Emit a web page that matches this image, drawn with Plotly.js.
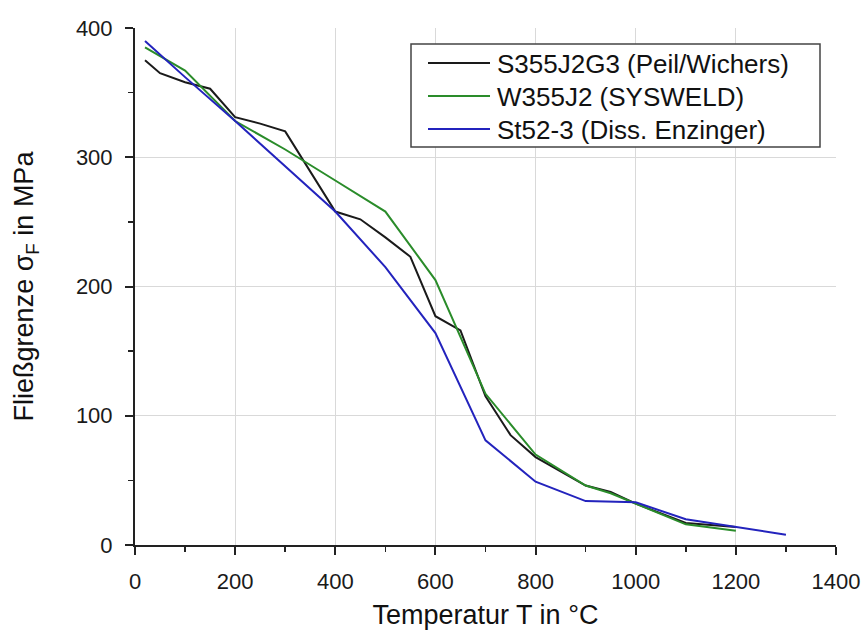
<!DOCTYPE html>
<html>
<head>
<meta charset="utf-8">
<script src="https://cdn.plot.ly/plotly-3.0.1.min.js"></script>
<style>html,body{margin:0;padding:0;background:#fff;}#chart{width:863px;height:631px;}</style>
</head>
<body>
<div id="chart"></div>
<script>
const blackName = "S355J2G3 (Peil/Wichers)";
const blackT = [20, 50, 100, 150, 200, 250, 300, 400, 450, 500, 550, 600, 650, 700, 750, 800, 900, 950, 1000, 1100, 1200];
const blackS = [375, 365, 358, 353, 331, 326, 320, 258, 252, 238, 223, 177, 166, 115, 85, 68, 46, 41, 32, 17, 14];

const greenName = "W355J2 (SYSWELD)";
const greenT = [20, 100, 200, 300, 400, 500, 600, 700, 800, 900, 950, 1000, 1100, 1200];
const greenS = [385, 367, 328, 306, 282, 258, 205, 117, 70, 46, 40, 32, 16, 11];

const blueName = "St52-3 (Diss. Enzinger)";
const blueT = [20, 100, 200, 300, 400, 500, 600, 700, 800, 900, 1000, 1100, 1200, 1300];
const blueS = [390, 362, 328, 293, 258, 215, 164, 81, 49, 34, 33, 20, 14, 8];

const xTitle = "Temperatur T in °C";
const yTitle = "Fließgrenze σ<sub>F</sub> in MPa";

const seriesNames = [blackName, greenName, blueName];
const seriesColors = ["#1a1a1a", "#2a8c2a", "#2323bd"];

const traces = [
  {x: blackT, y: blackS, name: blackName, mode: "lines", line: {color: seriesColors[0], width: 2}},
  {x: greenT, y: greenS, name: greenName, mode: "lines", line: {color: seriesColors[1], width: 2}},
  {x: blueT, y: blueS, name: blueName, mode: "lines", line: {color: seriesColors[2], width: 2}}
];

const FONT = "Liberation Sans, Arial, sans-serif";
const W = 863, H = 631;
const M = {l: 135, r: 27, t: 28, b: 86};
const PW = W - M.l - M.r, PH = H - M.t - M.b;
// pixel -> paper coordinates (for the hand-drawn legend box)
const px = v => (v - M.l) / PW;
const py = v => (H - M.b - v) / PH;

const shapes = [{
  type: "rect", xref: "paper", yref: "paper", layer: "above",
  x0: px(411), x1: px(820), y0: py(147), y1: py(44),
  fillcolor: "#fff", line: {color: "#444", width: 1.5}
}];
const annotations = [];
const rowY = [63, 96, 129];
seriesNames.forEach((nm, i) => {
  shapes.push({
    type: "line", xref: "paper", yref: "paper", layer: "above",
    x0: px(428), x1: px(490), y0: py(rowY[i]), y1: py(rowY[i]),
    line: {color: seriesColors[i], width: 2}
  });
  annotations.push({
    xref: "paper", yref: "paper", x: px(495), y: py(rowY[i] + 1),
    xanchor: "left", yanchor: "middle", showarrow: false,
    text: nm, font: {family: FONT, size: 26, color: "#111"}
  });
});

const axisCommon = {
  showline: true, linecolor: "#222", linewidth: 2,
  ticks: "outside", ticklen: 8, tickwidth: 2, tickcolor: "#222",
  showgrid: true, gridcolor: "#d9d9d9", gridwidth: 1,
  zeroline: false,
  tickfont: {family: FONT, size: 22, color: "#1a1a1a"}
};

const layout = {
  width: W, height: H,
  margin: M,
  paper_bgcolor: "#fff", plot_bgcolor: "#fff",
  font: {family: FONT, color: "#111"},
  showlegend: false,
  shapes: shapes,
  annotations: annotations,
  xaxis: Object.assign({}, axisCommon, {
    range: [0, 1400], dtick: 200, tick0: 0,
    ticklabelstandoff: 8,
    minor: {ticks: "outside", ticklen: 5, tickwidth: 1.5, tickcolor: "#222", dtick: 100, showgrid: false},
    title: {text: xTitle, font: {family: FONT, size: 27, color: "#111"}, standoff: 12}
  }),
  yaxis: Object.assign({}, axisCommon, {
    range: [0, 400], dtick: 100, tick0: 0,
    ticklabelstandoff: 8,
    minor: {ticks: "outside", ticklen: 5, tickwidth: 1.5, tickcolor: "#222", dtick: 50, showgrid: false},
    title: {text: yTitle, font: {family: FONT, size: 27, color: "#111"}, standoff: 34}
  })
};

Plotly.newPlot("chart", traces, layout, {displayModeBar: false, staticPlot: true});
</script>
</body>
</html>
